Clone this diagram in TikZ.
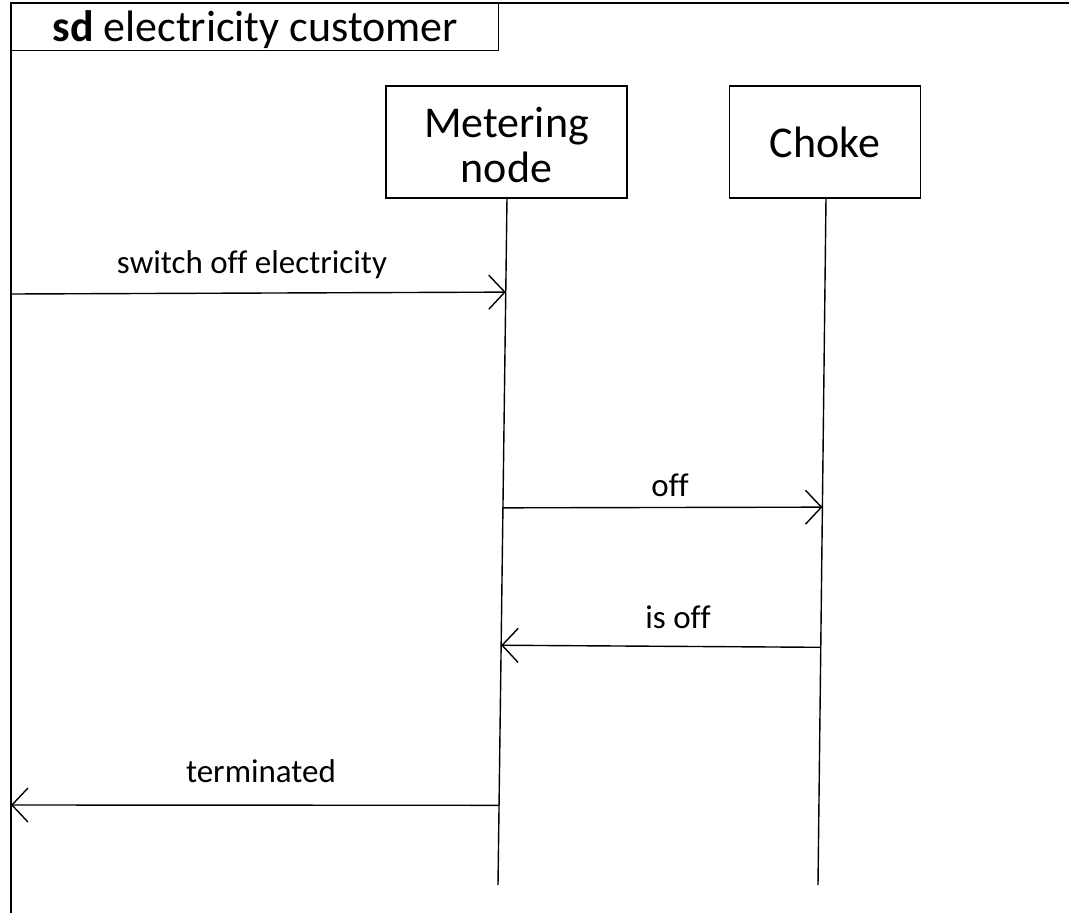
\documentclass[tikz,border=0pt]{standalone}
\usepackage{fontspec}
\setmainfont{Carlito}[Ligatures=NoCommon]
\usetikzlibrary{arrows.meta,calc}
\begin{document}
\begin{tikzpicture}[x=1pt,y=-1pt,
  line width=1.4pt,
  frameline/.style={draw=black,line width=1.6pt},
  lifebox/.style={draw=black,line width=1.4pt,align=center,inner sep=0pt,
    font=\fontsize{44}{45}\selectfont},
  msglabel/.style={anchor=base,inner sep=0pt,font=\fontsize{33}{36}\selectfont},
  msg/.style={draw=black,line width=1.4pt,-{Straight Barb[length=16pt,width=34pt]}},
  lifeline/.style={draw=black,line width=1.4pt}]
\useasboundingbox (0,0) rectangle (1069,913);
% frame
\coordinate (ftl) at (11,3);
\coordinate (ftr) at (1069,3);
\coordinate (fbl) at (11,913);
\draw[frameline] (ftr) -- (ftl) -- (fbl);
\node[draw=black,line width=1.4pt,minimum width=487pt,minimum height=47pt,anchor=north west,inner sep=0pt,
  text height=35pt,text depth=6pt,
  font=\fontsize{44}{46}\selectfont] (title) at (11,3) {\textbf{sd} electricity customer};
% lifeline heads
\node[lifebox,minimum width=241pt,minimum height=112pt] (meter) at (506.5,142) {\rule{0pt}{37pt}Metering\\node};
\node[lifebox,minimum width=191pt,minimum height=112pt] (choke) at (825,142) {Choke};
% lifelines
\coordinate (mtop) at (507,198);
\coordinate (mbot) at (498,885);
\coordinate (ctop) at (826,198);
\coordinate (cbot) at (818,885);
\draw[lifeline] (mtop) -- (mbot);
\draw[lifeline] (ctop) -- (cbot);
% message endpoints
\coordinate (m1) at ($(mtop)!0.137!(mbot)$);
\coordinate (m2) at ($(mtop)!0.451!(mbot)$);
\coordinate (m3) at ($(mtop)!0.651!(mbot)$);
\coordinate (m4) at ($(mtop)!0.884!(mbot)$);
\coordinate (c2) at ($(ctop)!0.450!(cbot)$);
\coordinate (c3) at ($(ctop)!0.654!(cbot)$);
\coordinate (g1) at (11,294);
\coordinate (g4) at (11,805);
% messages
\draw[msg] (g1) -- (m1);
\node[msglabel] (l1) at (252,273) {switch off electricity};
\draw[msg] (m2) -- (c2);
\node[msglabel] (l2) at (670,496) {off};
\draw[msg] (c3) -- (m3);
\node[msglabel] (l3) at (678,628) {is off};
\draw[msg] (m4) -- (g4);
\node[msglabel] (l4) at (261,782) {terminated};
\end{tikzpicture}
\end{document}
